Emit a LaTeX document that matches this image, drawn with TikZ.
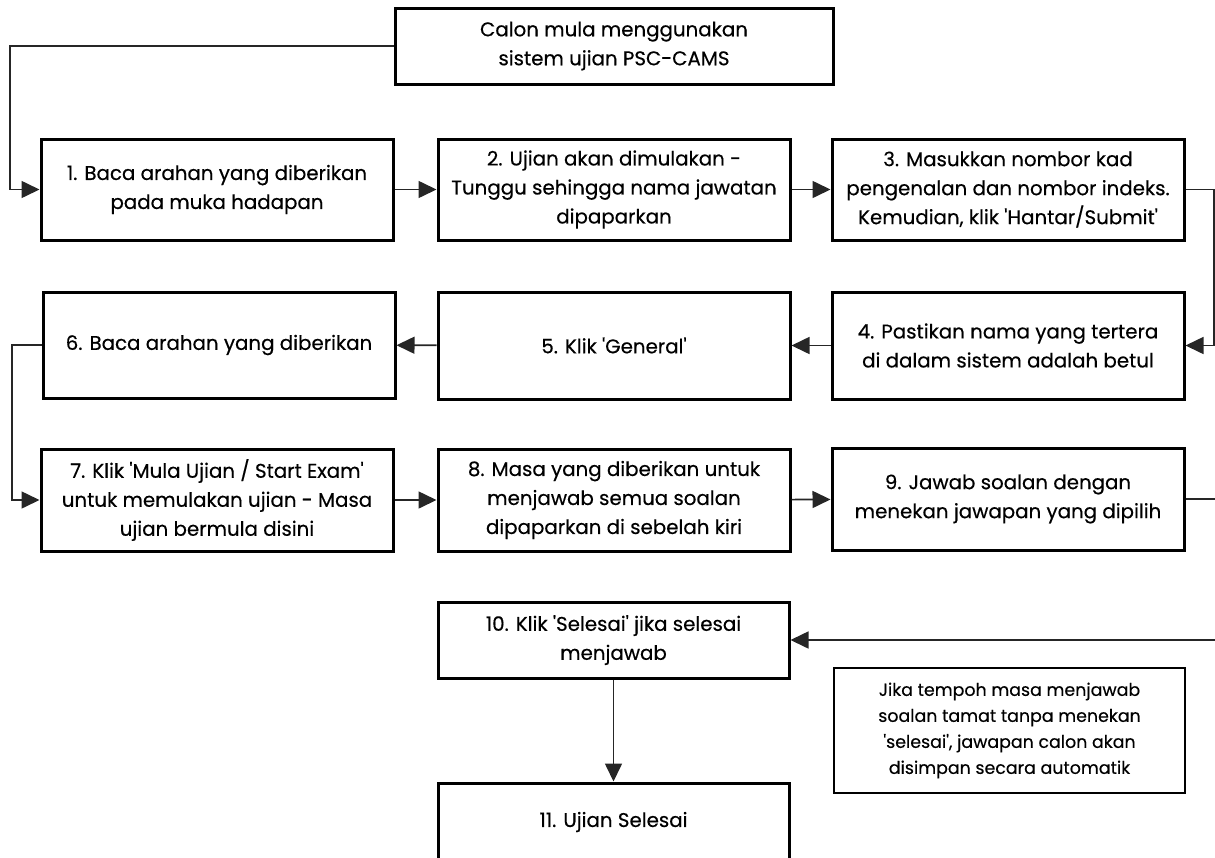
\documentclass[tikz,border=0pt]{standalone}
\usepackage{fontspec}
\setmainfont{Poppins}[FakeBold=0.4]
\usetikzlibrary{arrows.meta}
\newcommand{\sq}{\textquotesingle}

\begin{document}
\begin{tikzpicture}
  [x=0.5pt, y=-0.5pt,
    every node/.style={inner sep=0pt, align=center, text=black},
    stepbox/.style={draw, line width=1.5pt, minimum width=176pt, font=\fontsize{9.9}{14.5}\selectfont},
    notebox/.style={draw, line width=1.2pt, minimum width=175.5pt, minimum height=62.5pt, font=\fontsize{8.7}{13}\selectfont},
    conn/.style={draw=black!85, line width=0.8pt, -{Triangle[length=9pt,width=8.5pt]}},
]
\useasboundingbox (0,0) rectangle (1215,857);
\clip (0,0) rectangle (1215,857);

\node[stepbox, minimum width=219pt, minimum height=38pt] (start) at (614,46)
  {Calon mula menggunakan\\sistem ujian PSC-CAMS};

% row 1
\node[stepbox, minimum height=50.5pt] (s1) at (217,189.5)
  {1. Baca arahan yang diberikan\\pada muka hadapan};
\node[stepbox, minimum height=50.5pt] (s2) at (614,189.5)
  {2. Ujian akan dimulakan -\\Tunggu sehingga nama jawatan\\dipaparkan};
\node[stepbox, minimum height=50.5pt] (s3) at (1008,189.5)
  {3. Masukkan nombor kad\\pengenalan dan nombor indeks.\\Kemudian, klik \sq Hantar/Submit\sq};

% row 2
\node[stepbox, minimum height=53.5pt] (s4) at (1008,345.5)
  {4. Pastikan nama yang tertera\\di dalam sistem adalah betul};
\node[stepbox, minimum height=53.5pt] (s5) at (614,345.5)
  {5. Klik \sq General\sq};
\node[stepbox, minimum height=53pt] (s6) at (219,345)
  {6. Baca arahan yang diberikan};

% row 3
\node[stepbox, minimum height=51pt] (s7) at (217,500)
  {7. Klik \sq Mula Ujian / Start Exam\sq\\untuk memulakan ujian - Masa\\ujian bermula disini};
\node[stepbox, minimum height=51pt] (s8) at (614,500)
  {8. Masa yang diberikan untuk\\menjawab semua soalan\\dipaparkan di sebelah kiri};
\node[stepbox, minimum height=51pt] (s9) at (1008,499)
  {9. Jawab soalan dengan\\menekan jawapan yang dipilih};

% end
\node[stepbox, minimum width=175.5pt, minimum height=38pt] (s10) at (613.5,640)
  {10. Klik \sq Selesai\sq\ jika selesai\\menjawab};
\node[stepbox, minimum width=175.5pt, minimum height=39pt] (s11) at (613.5,822)
  {11. Ujian Selesai};
\node[notebox] (note) at (1009.5,730.5)
  {Jika tempoh masa menjawab\\soalan tamat tanpa menekan\\\sq selesai\sq, jawapan calon akan\\disimpan secara automatik};

\coordinate (lA) at (10,0);
\coordinate (lB) at (12,0);
\coordinate (rA) at (1214,0);
\coordinate (rB) at (1224,0);

\draw[conn] (start.west) -- (start.west -| lA) |- (s1.west);
\draw[conn] (s1) -- (s2);
\draw[conn] (s2) -- (s3);
\draw[conn] (s3.east) -- (s3.east -| rA) |- (s4.east);
\draw[conn] (s4) -- (s5);
\draw[conn] (s5) -- (s6);
\draw[conn] (s6.west) -- (s6.west -| lB) |- (s7.west);
\draw[conn] (s7) -- (s8);
\draw[conn] (s8) -- (s9);
\draw[conn] (s9.east) -- (s9.east -| rB) |- (s10.east);
\draw[conn] (s10) -- (s11);
\end{tikzpicture}
\end{document}
